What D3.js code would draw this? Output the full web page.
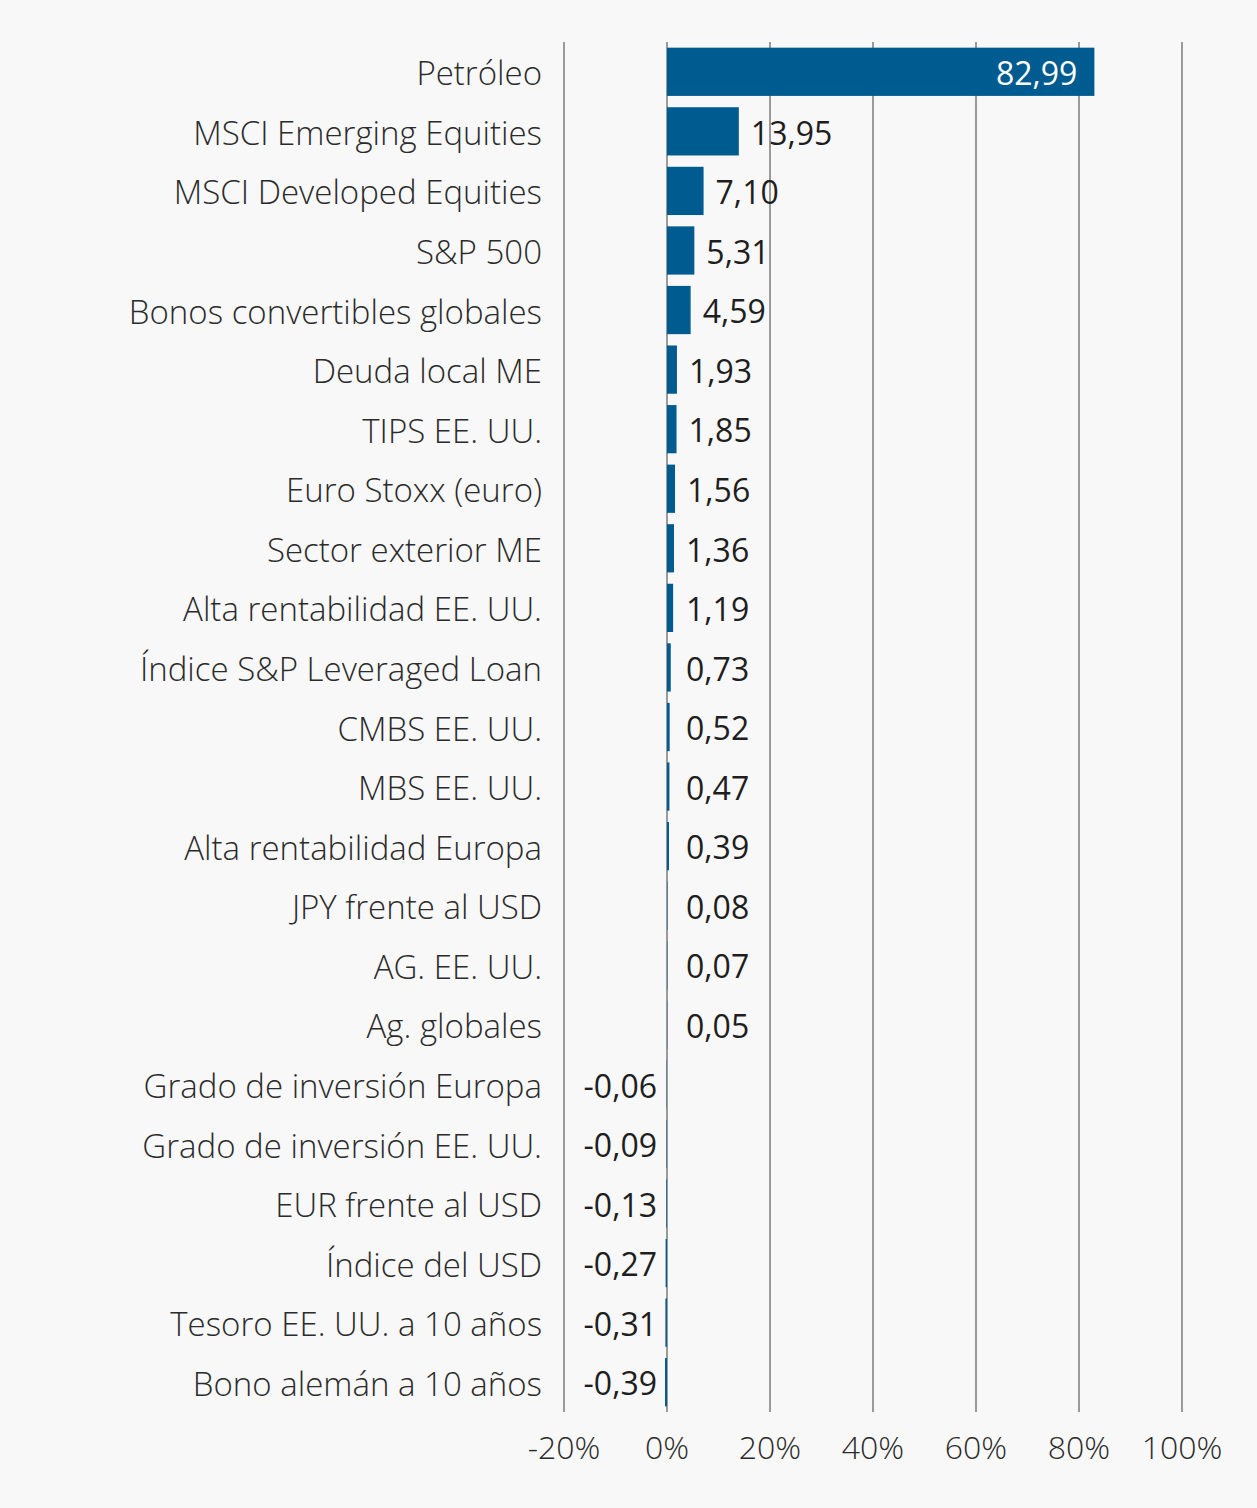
<!DOCTYPE html>
<html>
<head>
<meta charset="utf-8">
<script src="https://cdn.jsdelivr.net/npm/d3@7"></script>
<style>
  body { margin: 0; background: #f8f8f8; }
  svg { display: block; }
</style>
</head>
<body>
<div id="chart"></div>
<script>
// categories and values (% return)
var categories = [
  "Petróleo", "MSCI Emerging Equities", "MSCI Developed Equities", "S&P 500",
  "Bonos convertibles globales", "Deuda local ME", "TIPS EE. UU.", "Euro Stoxx (euro)",
  "Sector exterior ME", "Alta rentabilidad EE. UU.", "Índice S&P Leveraged Loan",
  "CMBS EE. UU.", "MBS EE. UU.", "Alta rentabilidad Europa", "JPY frente al USD",
  "AG. EE. UU.", "Ag. globales", "Grado de inversión Europa", "Grado de inversión EE. UU.",
  "EUR frente al USD", "Índice del USD", "Tesoro EE. UU. a 10 años", "Bono alemán a 10 años"
];
var values = [82.99, 13.95, 7.10, 5.31, 4.59, 1.93, 1.85, 1.56, 1.36, 1.19, 0.73,
  0.52, 0.47, 0.39, 0.08, 0.07, 0.05, -0.06, -0.09, -0.13, -0.27, -0.31, -0.39];
var xTicks = [-20, 0, 20, 40, 60, 80, 100];

var width = 1257, height = 1508;
var data = categories.map(function(c, i) { return { name: c, value: values[i] }; });

var svg = d3.select("#chart").append("svg")
  .attr("width", width)
  .attr("height", height);

var x = d3.scaleLinear().domain([-20, 100]).range([564, 1182]);
var y = d3.scaleBand().domain(categories).range([42, 1412]).paddingInner(0.19).paddingOuter(0.095);

var fmt = function(v) { return d3.format(".2f")(v).replace(".", ",").replace("−", "-"); };

// gridlines
svg.append("g").selectAll("line")
  .data(xTicks)
  .enter().append("line")
  .attr("x1", function(d) { return x(d); })
  .attr("x2", function(d) { return x(d); })
  .attr("y1", 42)
  .attr("y2", 1412)
  .attr("stroke", "#9a9a9a")
  .attr("stroke-width", 2);

// bars
svg.append("g").selectAll("rect")
  .data(data)
  .enter().append("rect")
  .attr("x", function(d) { return x(Math.min(0, d.value)); })
  .attr("y", function(d) { return y(d.name); })
  .attr("width", function(d) { return Math.abs(x(d.value) - x(0)); })
  .attr("height", y.bandwidth())
  .attr("fill", "#005b91");

// category labels
svg.append("g").selectAll("text")
  .data(data)
  .enter().append("text")
  .attr("x", 542)
  .attr("y", function(d) { return y(d.name) + y.bandwidth() / 2 + 2; })
  .attr("dy", "0.35em")
  .attr("text-anchor", "end")
  .attr("font-family", "Open Sans")
  .attr("font-weight", 300)
  .attr("font-size", "33px")
  .attr("fill", "#2b2b2b")
  .text(function(d) { return d.name; });

// value labels
svg.append("g").selectAll("text")
  .data(data)
  .enter().append("text")
  .attr("x", function(d) {
    if (d.value > 50) return x(d.value) - 17;
    if (d.value < 0) return x(0) - 10;
    return Math.max(x(d.value) + 12, x(0) + 19);
  })
  .attr("y", function(d) { return y(d.name) + y.bandwidth() / 2 + 2; })
  .attr("dy", "0.35em")
  .attr("text-anchor", function(d) { return (d.value > 50 || d.value < 0) ? "end" : "start"; })
  .attr("font-family", "Open Sans")
  .attr("font-size", "32px")
  .attr("fill", function(d) { return d.value > 50 ? "#ffffff" : "#1e1e1e"; })
  .text(function(d) { return fmt(d.value); });

// x axis labels
svg.append("g").selectAll("text")
  .data(xTicks)
  .enter().append("text")
  .attr("x", function(d) { return x(d); })
  .attr("y", 1448)
  .attr("dy", "0.35em")
  .attr("text-anchor", "middle")
  .attr("font-family", "Open Sans")
  .attr("font-weight", 300)
  .attr("font-size", "32px")
  .attr("fill", "#2b2b2b")
  .text(function(d) { return d + "%"; });
</script>
</body>
</html>
